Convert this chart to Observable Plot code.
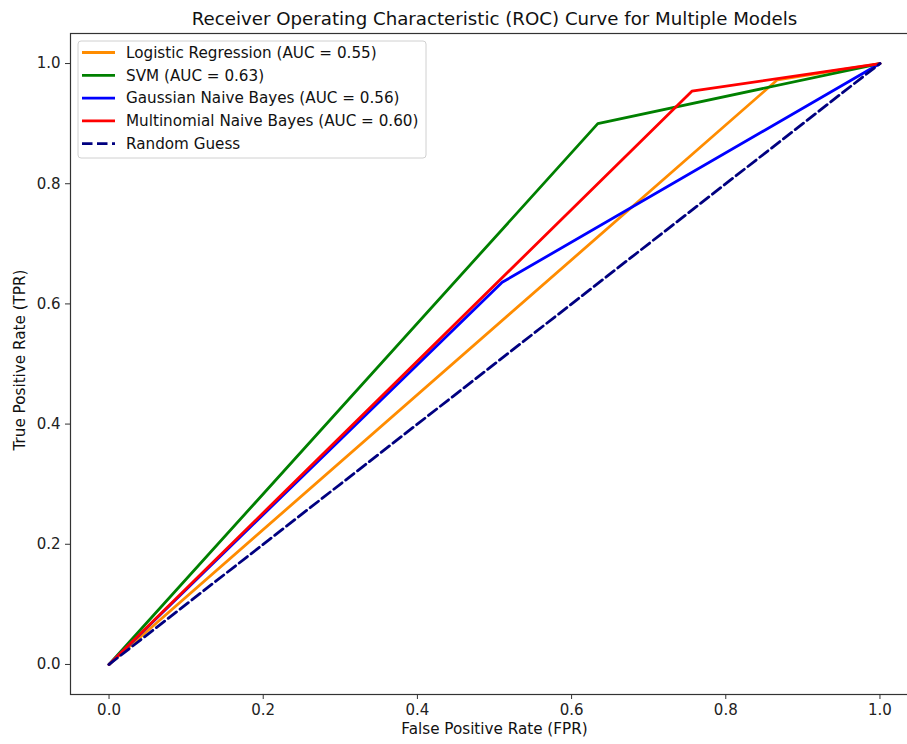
<!DOCTYPE html>
<html>
<head>
<meta charset="utf-8">
<script src="https://cdn.jsdelivr.net/npm/d3@7"></script>
<script src="https://cdn.jsdelivr.net/npm/@observablehq/plot@0.6"></script>
<style>
  html, body { margin: 0; padding: 0; background: white; overflow: hidden; }
  #chart { position: relative; width: 907px; height: 744px; overflow: hidden; }
</style>
</head>
<body>
<div id="chart"></div>
<script>
const title = "Receiver Operating Characteristic (ROC) Curve for Multiple Models";
const xLabel = "False Positive Rate (FPR)";
const yLabel = "True Positive Rate (TPR)";
const models = ["Logistic Regression", "SVM", "Gaussian Naive Bayes", "Multinomial Naive Bayes"];
const aucs = [0.55, 0.63, 0.56, 0.60];
const colors = ["darkorange", "green", "blue", "red"];
const fprs = [[0, 0.867, 1], [0, 0.634, 1], [0, 0.510, 1], [0, 0.756, 1]];
const tprs = [[0, 0.973, 1], [0, 0.900, 1], [0, 0.636, 1], [0, 0.954, 1]];
const randomLabel = "Random Guess";
const randomFpr = [0, 1];
const randomTpr = [0, 1];
const randomColor = "navy";
const xTicks = [0, 0.2, 0.4, 0.6, 0.8, 1.0];
const yTicks = [0, 0.2, 0.4, 0.6, 0.8, 1.0];

const font = "DejaVu Sans, sans-serif";
const fmt = d3.format(".1f");
const lw = 2.8;
const dash = "10.5,4.5";

const modelLines = models.map((m, i) => {
  const pts = fprs[i].map((f, j) => ({fpr: f, tpr: tprs[i][j]}));
  return Plot.line(pts, {x: "fpr", y: "tpr", stroke: colors[i], strokeWidth: lw});
});
const randPts = randomFpr.map((f, j) => ({fpr: f, tpr: randomTpr[j]}));

const plot = Plot.plot({
  width: 907,
  height: 744,
  marginLeft: 70,
  marginRight: -11,
  marginTop: 33,
  marginBottom: 50,
  style: {fontFamily: font, fontSize: "15px", color: "#000", background: "white", overflow: "visible"},
  x: {domain: [-0.05, 1.05]},
  y: {domain: [-0.05, 1.05]},
  marks: [
    ...modelLines,
    Plot.line(randPts, {x: "fpr", y: "tpr", stroke: randomColor, strokeWidth: lw, strokeDasharray: dash}),
    Plot.frame({stroke: "#333", strokeWidth: 1.2}),
    Plot.axisX({ticks: xTicks, tickFormat: fmt, tickSize: 5, tickPadding: 5, label: null, fontSize: 15, stroke: "#333", fill: "#222"}),
    Plot.axisY({ticks: yTicks, tickFormat: fmt, tickSize: 5, tickPadding: 5, label: null, fontSize: 15, stroke: "#333", fill: "#222"}),
    Plot.text([title], {text: d => d, frameAnchor: "top", dy: -21, fontSize: 18.2, fill: "#111"}),
    Plot.text([xLabel], {text: d => d, frameAnchor: "bottom", dy: 39, fontSize: 15.2, fill: "#111"}),
    Plot.text([yLabel], {text: d => d, frameAnchor: "left", textAnchor: "middle", dx: -50, dy: -4, rotate: -90, fontSize: 15.2, fill: "#111"})
  ]
});
document.getElementById("chart").appendChild(plot);

// Legend (drawn into the same SVG)
const svg = d3.select(plot);
const entries = models.map((m, i) => ({label: `${m} (AUC = ${aucs[i].toFixed(2)})`, color: colors[i], dash: null}));
entries.push({label: randomLabel, color: randomColor, dash: dash});
const lg = svg.append("g").attr("transform", "translate(78,41)").attr("text-anchor", "start");
lg.append("rect").attr("width", 348).attr("height", 117).attr("rx", 3)
  .attr("fill", "white").attr("fill-opacity", 0.8).attr("stroke", "#d0d0d0");
entries.forEach((e, i) => {
  const y = 11.5 + i * 22.8;
  lg.append("line").attr("x1", 4).attr("x2", 37).attr("y1", y).attr("y2", y)
    .attr("stroke", e.color).attr("stroke-width", lw)
    .attr("stroke-dasharray", e.dash);
  lg.append("text").attr("x", 48).attr("y", y).attr("dy", "0.35em")
    .attr("text-anchor", "start")
    .attr("font-family", font).attr("font-size", 15.2).attr("fill", "#111").text(e.label);
});
</script>
</body>
</html>
